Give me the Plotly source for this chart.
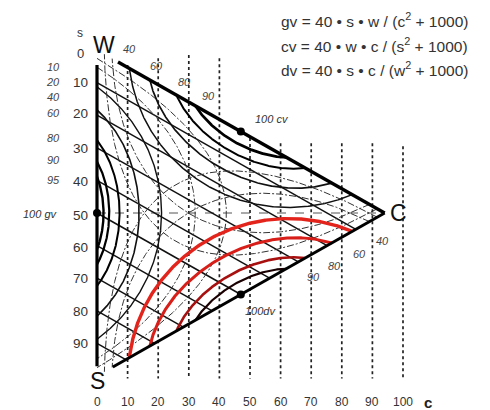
import numpy as np
import plotly.graph_objects as go

# ---------------- data ----------------
S_TICKS = [0, 10, 20, 30, 40, 50, 60, 70, 80, 90]
C_TICKS = [0, 10, 20, 30, 40, 50, 60, 70, 80, 90, 100]
GRID_S = [10, 20, 30, 40, 50, 60, 70, 80, 90]          # iso-s grid lines
DOT_C = [10, 20, 30, 40, 50, 60, 70, 80, 90, 100]       # dotted iso-c lines
DOT_TOP = [4.6, 2.5, 1.5, 2.5, 27, 28.6, 28.6, 28.6, 28.6, 29.5]
GV_LEVELS = [10, 20, 40, 60, 80, 90, 95]
CV_LEVELS = [10, 20, 40, 60, 80, 90]
DV_LEVELS = [10, 20, 40, 60, 80, 90]
GV_LABELS = ["10", "20", "40", "60", "80", "90", "95"]
CV_LABELS = ["40", "60", "80", "90"]
DV_LABELS = ["40", "60", "80", "90"]
FORMULAS = ["gv = 40 • s • w / (c<sup>2</sup> + 1000)",
            "cv = 40 • w • c / (s<sup>2</sup> + 1000)",
            "dv = 40 • s • c / (w<sup>2</sup> + 1000)"]

# ---------------- geometry ----------------
CX = 0.94          # horizontal position of vertex C (in c-axis units / 100)
X0, KX = 97, 3.06  # pixel mapping used only for placing text
Y0, KY = 50, 3.26
PAGE_M = 8         # default body margin of the html page


def xy(s, c):
    s = np.asarray(s, float)
    c = np.asarray(c, float)
    return CX * c, s + c / 2.0


def P(px, py):
    return (px - X0) / KX, (py - Y0) / KY


def level_curve(L, n=500):
    """pair p,q with p*q = L/40*(z^2+1000), p+q+z = 100."""
    k = L / 40.0
    a = 1 - 4 * k
    dmax = np.sqrt(10000 - 4000 * k)
    t = np.linspace(0, np.pi, n)
    d = -dmax * np.cos(t)
    cc = 10000 - 4000 * k - d ** 2
    if abs(a) < 1e-9:
        z = cc / 200.0
    else:
        z = (200 - np.sqrt(40000 - 4 * a * cc)) / (2 * a)
    z = np.clip(z, 0, None)
    T = 100 - z
    return (T + d) / 2, (T - d) / 2, z


fig = go.Figure()


def line(x, y, color="black", width=1.5, dash="solid"):
    fig.add_trace(go.Scatter(x=x, y=y, mode="lines", hoverinfo="skip",
                             line=dict(color=color, width=width, dash=dash),
                             showlegend=False))


# dotted iso-c lines
for c, top in zip(DOT_C, DOT_TOP):
    line([c, c], [top, 100.8], "#222", 1.7, "dot")

# dashed s = w line
xa, ya = xy([50, 0], [0, 100])
line(xa, ya, "#555", 1.0, "dash")

# iso-s grid lines
for s in GRID_S:
    xa, ya = xy([s, s], [0, 100 - s])
    line(xa, ya, "#111", 1.5)

DD = "7px,2px,2px,2px"
STY_GV = {10: ("#333", 1.0, DD), 20: ("#333", 1.0, DD), 40: ("#111", 1.4, "solid"),
          60: ("#111", 1.6, "solid"), 80: ("black", 2.0, "solid"),
          90: ("black", 2.2, "solid"), 95: ("black", 2.4, "solid")}
STY_CV = {10: ("#333", 1.0, DD), 20: ("#333", 1.0, DD), 40: ("#111", 1.5, "solid"),
          60: ("#111", 1.7, "solid"), 80: ("black", 2.0, "solid"),
          90: ("black", 2.8, "solid")}
STY_DV = {10: ("#333", 1.0, DD), 20: ("#333", 1.0, DD), 40: ("#e3241c", 3.4, "solid"),
          60: ("#d81e18", 3.0, "solid"), 80: ("#a81010", 2.6, "solid"),
          90: ("#1a0000", 2.2, "solid")}

for L in GV_LEVELS:
    p, q, z = level_curve(L)
    xa, ya = xy(p, z)            # s = p, w = q, c = z
    line(xa, ya, *STY_GV[L])
for L in CV_LEVELS:
    p, q, z = level_curve(L)
    xa, ya = xy(z, q)            # w = p, c = q, s = z
    line(xa, ya, *STY_CV[L])
for L in DV_LEVELS:
    p, q, z = level_curve(L)
    xa, ya = xy(p, q)            # s = p, c = q, w = z
    line(xa, ya, *STY_DV[L])

# triangle edges
line([0, 0], [4.6, 97], "black", 3.2)
xa, ya = xy([0, 0], [7.3, 100])
line(xa, ya, "black", 3.4)
xa, ya = xy([100 - 5.5, 0], [5.5, 100])
line(xa, ya, "black", 3.0)

# maxima dots
xa, ya = xy([50, 0, 50], [0, 50, 50])
fig.add_trace(go.Scatter(x=xa, y=ya, mode="markers", hoverinfo="skip", showlegend=False,
                         marker=dict(color="black", size=8)))

# ---------------- text ----------------
ann = []
FONT = "Liberation Sans, Arial, sans-serif"


def txt(px, py, t, size=12, color="#222", anchor="center", italic=False, bold=False):
    x, y = P(px, py)
    if italic:
        t = "<i>" + t + "</i>"
    if bold:
        t = "<b>" + t + "</b>"
    ann.append(dict(x=x, y=y, xref="x", yref="y", text=t, showarrow=False,
                    xanchor=anchor, yanchor="middle",
                    font=dict(family=FONT, size=size, color=color)))


for i, f in enumerate(FORMULAS):
    txt(279, 20 + 24.5 * i, f, 15.5, "#333", "left")

txt(104, 45, "W", 23, "#111")
txt(97, 381, "S", 23, "#111")
txt(398, 213, "C", 23, "#111")
txt(80, 33, "s", 12, "#333")

S_PY = [53, 82, 113, 148, 181, 215, 247, 278, 311, 343]
for s, py in zip(S_TICKS, S_PY):
    txt(80, py, str(s), 13.5 if s else 13, "#333")

GV_PY = [67, 82, 97, 113, 138, 160, 180]
for lab, py in zip(GV_LABELS, GV_PY):
    txt(53, py, lab, 11, "#444", italic=True)
txt(40, 214, "100 gv", 11, "#333", italic=True)

CV_POS = [(129, 49), (156, 66), (184, 82), (208, 96)]
for lab, (px, py) in zip(CV_LABELS, CV_POS):
    txt(px, py, lab, 11, "#444", italic=True)
txt(272, 119, "100 cv", 11, "#333", italic=True)

DV_POS = [(382, 241), (359, 254), (334, 266), (313, 277)]
for lab, (px, py) in zip(DV_LABELS, DV_POS):
    txt(px, py, lab, 11, "#444", italic=True)
txt(260, 311, "100dv", 11, "#333", italic=True)

for c in C_TICKS:
    txt(X0 + KX * c, 402, str(c), 12, "#333")
txt(428, 402, "c", 15, "#222", bold=True)

W_PX, H_PX = 490 - PAGE_M, 410 - PAGE_M
xr = [(PAGE_M - X0) / KX, (490 - X0) / KX]
yr = [(410 - Y0) / KY, (PAGE_M - Y0) / KY]
fig.update_layout(width=W_PX, height=H_PX, margin=dict(l=0, r=0, t=0, b=0),
                  paper_bgcolor="white", plot_bgcolor="white",
                  xaxis=dict(range=xr, visible=False, fixedrange=True),
                  yaxis=dict(range=yr, visible=False, fixedrange=True),
                  annotations=ann, showlegend=False)
fig.write_html("out.html")
